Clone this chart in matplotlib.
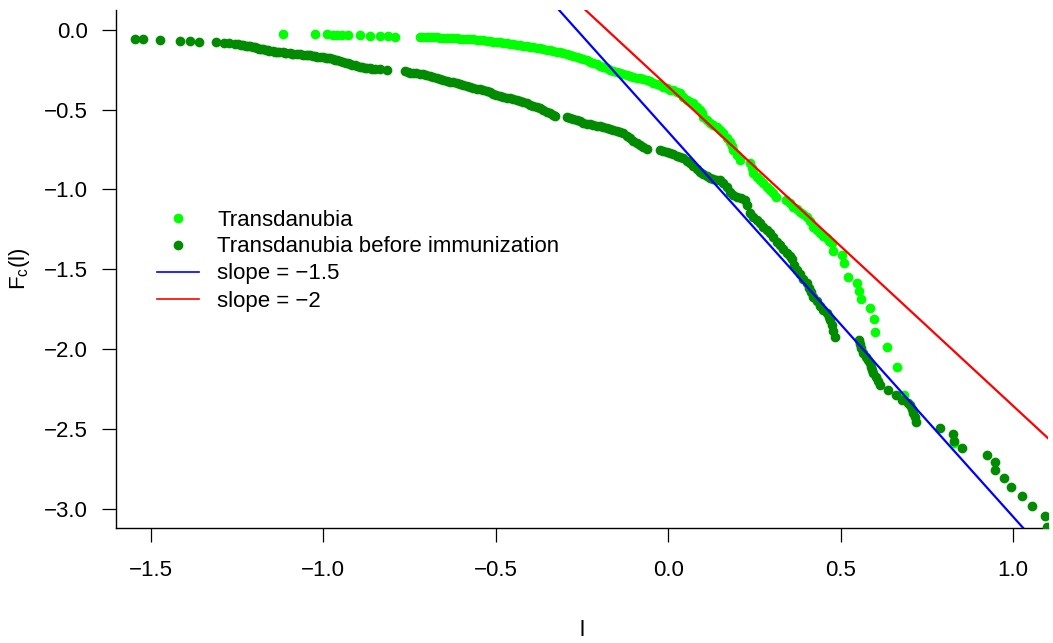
import matplotlib
matplotlib.use("Agg")
import matplotlib.pyplot as plt
from matplotlib.lines import Line2D

plt.rcParams['font.family'] = ['Liberation Sans', 'DejaVu Sans']
plt.rcParams['mathtext.fontset'] = 'custom'
plt.rcParams['mathtext.rm'] = 'Liberation Sans'

# ---------------- data ----------------
# Transdanubia before immunization (dark green)
before_x = [-1.546, -1.524, -1.473, -1.416, -1.387, -1.361, -1.312, -1.289, -1.274, -1.255,
            -1.248, -1.240, -1.234, -1.224, -1.218, -1.213, -1.203, -1.198, -1.193, -1.185,
            -1.180, -1.176, -1.166, -1.160, -1.156, -1.145, -1.140, -1.135, -1.127, -1.118,
            -1.112, -1.107, -1.097, -1.092, -1.087, -1.077, -1.068, -1.060, -1.050, -1.045,
            -1.039, -1.029, -1.024, -1.019, -1.010, -1.001, -0.991, -0.986, -0.981, -0.971,
            -0.966, -0.961, -0.952, -0.943, -0.935, -0.929, -0.923, -0.916, -0.909, -0.901,
            -0.894, -0.887, -0.880, -0.872, -0.865, -0.858, -0.850, -0.836, -0.816,
            -0.763, -0.755, -0.749, -0.740, -0.730, -0.720, -0.711, -0.701, -0.691, -0.681,
            -0.671, -0.662, -0.652, -0.642, -0.633, -0.623, -0.613, -0.604, -0.594, -0.584,
            -0.575, -0.565, -0.555, -0.546, -0.536, -0.526, -0.517, -0.507, -0.498, -0.488,
            -0.478, -0.468, -0.459, -0.449, -0.439, -0.430, -0.420, -0.410, -0.401, -0.391,
            -0.381, -0.372, -0.362, -0.352, -0.343, -0.335, -0.328,
            -0.294, -0.285, -0.275, -0.265, -0.256, -0.246, -0.236, -0.227, -0.217, -0.207,
            -0.198, -0.188, -0.178, -0.169, -0.159, -0.149, -0.140, -0.130, -0.120, -0.111,
            -0.101, -0.091, -0.082, -0.072, -0.062,
            -0.024, -0.014, -0.005, 0.005, 0.015, 0.024, 0.034, 0.044, 0.053, 0.063,
            0.073, 0.082, 0.092, 0.102, 0.111, 0.121, 0.131, 0.140, 0.150, 0.160,
            0.170, 0.179, 0.189, 0.199, 0.210, 0.223, 0.228, 0.237, 0.247, 0.257,
            0.266, 0.276, 0.286, 0.295, 0.305, 0.315, 0.324, 0.334, 0.344, 0.352,
            0.358, 0.365, 0.373, 0.383, 0.392, 0.402, 0.408, 0.414, 0.421, 0.431,
            0.440, 0.450, 0.459, 0.465, 0.469, 0.474, 0.479, 0.484,
            0.554, 0.557, 0.560, 0.566, 0.572, 0.578, 0.585, 0.589, 0.592, 0.595,
            0.601, 0.607, 0.614, 0.637, 0.660, 0.679, 0.695, 0.701, 0.706, 0.711,
            0.715, 0.719,
            0.788, 0.825, 0.829, 0.851, 0.924, 0.946, 0.948, 0.972, 0.994, 1.027,
            1.054, 1.093, 1.098]
before_y = [-0.059, -0.062, -0.066, -0.070, -0.074, -0.078, -0.080, -0.084, -0.086, -0.088,
            -0.091, -0.094, -0.097, -0.100, -0.101, -0.103, -0.108, -0.111, -0.114, -0.119,
            -0.121, -0.124, -0.128, -0.131, -0.133, -0.136, -0.138, -0.139, -0.141, -0.143,
            -0.145, -0.146, -0.149, -0.150, -0.151, -0.153, -0.155, -0.158, -0.160, -0.160,
            -0.161, -0.165, -0.168, -0.170, -0.172, -0.174, -0.177, -0.178, -0.180, -0.185,
            -0.188, -0.191, -0.198, -0.205, -0.208, -0.211, -0.216, -0.220, -0.224, -0.229,
            -0.233, -0.236, -0.238, -0.241, -0.243, -0.245, -0.246, -0.249, -0.253,
            -0.258, -0.265, -0.270, -0.272, -0.273, -0.275, -0.281, -0.287, -0.293, -0.299,
            -0.305, -0.311, -0.316, -0.320, -0.326, -0.331, -0.336, -0.341, -0.347, -0.353,
            -0.358, -0.364, -0.369, -0.374, -0.379, -0.384, -0.392, -0.402, -0.411, -0.416,
            -0.421, -0.426, -0.431, -0.436, -0.442, -0.449, -0.455, -0.461, -0.469, -0.477,
            -0.485, -0.493, -0.503, -0.514, -0.524, -0.533, -0.541,
            -0.545, -0.553, -0.560, -0.566, -0.574, -0.583, -0.588, -0.592, -0.597, -0.601,
            -0.606, -0.611, -0.616, -0.622, -0.628, -0.634, -0.641, -0.649, -0.663, -0.680,
            -0.695, -0.711, -0.724, -0.736, -0.746,
            -0.753, -0.760, -0.767, -0.774, -0.781, -0.788, -0.795, -0.806, -0.822, -0.836,
            -0.854, -0.872, -0.889, -0.903, -0.917, -0.930, -0.935, -0.938, -0.941, -0.962,
            -0.983, -1.015, -1.035, -1.045, -1.055, -1.066, -1.100, -1.145, -1.170, -1.191,
            -1.212, -1.233, -1.254, -1.274, -1.300, -1.326, -1.347, -1.373, -1.399, -1.418,
            -1.435, -1.470, -1.503, -1.530, -1.558, -1.586, -1.615, -1.643, -1.670, -1.700,
            -1.726, -1.753, -1.775, -1.796, -1.816, -1.850, -1.885, -1.920,
            -1.941, -1.965, -1.990, -2.024, -2.045, -2.065, -2.086, -2.110, -2.130, -2.149,
            -2.175, -2.200, -2.222, -2.253, -2.284, -2.316, -2.335, -2.347, -2.372, -2.399,
            -2.425, -2.451,
            -2.493, -2.530, -2.570, -2.614, -2.659, -2.705, -2.753, -2.805, -2.858, -2.916,
            -2.976, -3.041, -3.108]

# Transdanubia (bright green)
trans_x = [-1.118,
           -1.024, -0.990, -0.971, -0.961, -0.947, -0.928, -0.894, -0.865, -0.836, -0.812,
           -0.792,
           -0.720, -0.710, -0.700, -0.690, -0.681, -0.671, -0.661, -0.652, -0.642, -0.632,
           -0.623, -0.613, -0.603, -0.594, -0.584, -0.575, -0.565, -0.555, -0.546, -0.536,
           -0.526, -0.517, -0.507, -0.497, -0.488, -0.478, -0.468, -0.459, -0.449, -0.439,
           -0.430, -0.420, -0.410, -0.401, -0.391, -0.381, -0.372, -0.362, -0.352, -0.343,
           -0.333, -0.323, -0.314, -0.304, -0.294, -0.285, -0.275, -0.265, -0.256, -0.246,
           -0.236, -0.227, -0.217, -0.207, -0.198, -0.188, -0.178, -0.169, -0.159, -0.149,
           -0.140, -0.130, -0.120, -0.111, -0.101, -0.091, -0.082, -0.072, -0.062, -0.053,
           -0.043, -0.034, -0.024, -0.014, -0.005, 0.005, 0.015, 0.024, 0.034, 0.044,
           0.054, 0.063, 0.073, 0.083, 0.092, 0.097, 0.102, 0.111, 0.121, 0.131,
           0.141, 0.150, 0.160, 0.170, 0.179, 0.184, 0.189, 0.199, 0.208,
           0.237, 0.242, 0.247, 0.257, 0.266, 0.276, 0.286, 0.295, 0.305, 0.313,
           0.342, 0.352, 0.363, 0.372, 0.382, 0.392, 0.402, 0.411, 0.421, 0.431,
           0.440, 0.450, 0.460, 0.467, 0.474, 0.477, 0.503, 0.511, 0.522, 0.548,
           0.553, 0.558, 0.585, 0.597, 0.600, 0.635, 0.664, 0.684, 0.829]
trans_y = [-0.030,
           -0.030, -0.030, -0.032, -0.032, -0.033, -0.034, -0.036, -0.038, -0.041, -0.043,
           -0.045,
           -0.045, -0.045, -0.045, -0.047, -0.048, -0.049, -0.050, -0.050, -0.051, -0.053,
           -0.054, -0.055, -0.057, -0.059, -0.060, -0.060, -0.061, -0.064, -0.066, -0.068,
           -0.070, -0.072, -0.075, -0.078, -0.080, -0.083, -0.085, -0.088, -0.091, -0.094,
           -0.097, -0.100, -0.103, -0.107, -0.111, -0.114, -0.118, -0.122, -0.126, -0.129,
           -0.133, -0.138, -0.143, -0.148, -0.153, -0.159, -0.165, -0.170, -0.176, -0.184,
           -0.192, -0.200, -0.208, -0.217, -0.226, -0.234, -0.243, -0.251, -0.259, -0.266,
           -0.274, -0.279, -0.284, -0.290, -0.295, -0.300, -0.305, -0.310, -0.316, -0.324,
           -0.332, -0.339, -0.347, -0.357, -0.368, -0.375, -0.378, -0.388, -0.399, -0.420,
           -0.441, -0.451, -0.461, -0.482, -0.503, -0.524, -0.545, -0.565, -0.586, -0.597,
           -0.608, -0.628, -0.649, -0.675, -0.701, -0.727, -0.753, -0.785, -0.816,
           -0.836, -0.868, -0.899, -0.920, -0.941, -0.962, -0.983, -1.003, -1.024, -1.049,
           -1.066, -1.087, -1.108, -1.124, -1.139, -1.155, -1.170, -1.200, -1.233, -1.254,
           -1.274, -1.290, -1.305, -1.320, -1.336, -1.383, -1.409, -1.461, -1.545, -1.586,
           -1.633, -1.684, -1.743, -1.809, -1.889, -1.984, -2.109, -2.284, -2.586]

series_labels = ["Transdanubia", "Transdanubia before immunization"]
line_labels = ["slope = \u22121.5", "slope = \u22122"]
line_intercepts = [-0.640, -0.357]
line_slopes = [-2.406, -1.996]
line_colors = ["#0000FF", "#FF0000"]
point_colors = ["#00FF00", "#008B00"]

x_ticks = [-1.5, -1.0, -0.5, 0.0, 0.5, 1.0]
y_ticks = [0.0, -0.5, -1.0, -1.5, -2.0, -2.5, -3.0]

# ---------------- figure ----------------
W, H = 1053, 643
fig = plt.figure(figsize=(W / 100, H / 100), dpi=100)
ax = fig.add_axes([116 / W, 1 - 528 / H, (1048 - 116) / W, (528 - 10) / H])

ms = 7.0
ax.plot(trans_x, trans_y, 'o', color=point_colors[0], ms=ms, mew=0, zorder=2)
ax.plot(before_x, before_y, 'o', color=point_colors[1], ms=ms, mew=0, zorder=3)
for b, m, c in zip(line_intercepts, line_slopes, line_colors):
    ax.axline((0, b), slope=m, color=c, lw=1.6, zorder=4)

ax.set_xlim(-1.601, 1.101)
ax.set_ylim(-3.116, 0.122)
ax.set_xticks(x_ticks)
ax.set_yticks(y_ticks)
ax.set_xticklabels([f"{v:.1f}".replace("-", "\u2212") for v in x_ticks])
ax.set_yticklabels([f"{v:.1f}".replace("-", "\u2212") for v in y_ticks])
for s in ["top", "right"]:
    ax.spines[s].set_visible(False)
for s in ["left", "bottom"]:
    ax.spines[s].set_linewidth(1.0)
ax.tick_params(axis='both', direction='out', length=10, width=0.9, labelsize=16)
ax.tick_params(axis='x', pad=13)
ax.tick_params(axis='y', pad=10)

fig.text(582 / W, 1 - 631 / H, "l", ha='center', va='center', fontsize=16)
fig.text(20 / W, 1 - 269 / H, r"F$_\mathregular{c}$(l)", ha='center', va='center',
         rotation=90, fontsize=16)

handles = [
    Line2D([], [], ls='none', marker='o', color=point_colors[0], ms=ms, mew=0),
    Line2D([], [], ls='none', marker='o', color=point_colors[1], ms=ms, mew=0),
    Line2D([], [], color=line_colors[0], lw=1.2),
    Line2D([], [], color=line_colors[1], lw=1.2),
]
ax.legend(handles, series_labels + line_labels, loc='upper left',
          bbox_to_anchor=(156.7 / W, 1 - 209.5 / H), bbox_transform=fig.transFigure,
          frameon=False, fontsize=16, handlelength=1.9, handletextpad=0.82,
          labelspacing=0.27, borderpad=0, borderaxespad=0)

fig.savefig("out.png", dpi=100)
